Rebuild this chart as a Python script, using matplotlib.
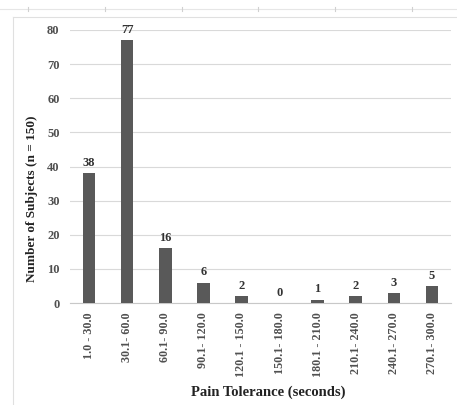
import matplotlib
matplotlib.use("Agg")
import matplotlib.pyplot as plt
from matplotlib.lines import Line2D

categories = ["1.0 - 30.0", "30.1- 60.0", "60.1- 90.0", "90.1- 120.0", "120.1 - 150.0",
              "150.1- 180.0", "180.1 - 210.0", "210.1- 240.0", "240.1- 270.0", "270.1- 300.0"]
counts = [38, 77, 16, 6, 2, 0, 1, 2, 3, 5]
yticks = [0, 10, 20, 30, 40, 50, 60, 70, 80]

plt.rcParams['font.family'] = ['Liberation Serif', 'DejaVu Serif']
W, H = 457, 405
fig = plt.figure(figsize=(W/100, H/100), dpi=100)
ax = fig.add_axes([70/W, 1-303/H, 381/W, 273/H])

x = list(range(len(categories)))
ax.bar(x, counts, width=0.33, color="#595959", zorder=3)
for xi, c in zip(x, counts):
    ax.text(xi, c + 1.2, str(c), ha="center", va="bottom", fontsize=9,
            fontweight="bold", color="#333333", clip_on=False)

ax.set_xlim(-0.5, len(categories) - 0.5)
ax.set_ylim(0, 80)
ax.set_yticks(yticks)
ax.set_yticklabels([str(t) for t in yticks], fontsize=9, fontweight="bold", color="#505050")
ax.set_xticks(x)
ax.set_xticklabels(categories, rotation=90, fontsize=8.7, fontweight="bold", color="#505050", va="top")
ax.tick_params(axis="x", length=0, pad=6.5)
ax.tick_params(axis="y", length=0, pad=7.5)
ax.grid(axis="y", color="#d9d9d9", linewidth=0.8, zorder=0)
for s in ["top", "right", "left"]:
    ax.spines[s].set_visible(False)
ax.spines["bottom"].set_color("#c8c8c8")
ax.spines["bottom"].set_linewidth(0.8)

fig.text(268/W, 1-392/H, "Pain Tolerance (seconds)", ha="center", va="center",
         fontsize=10.5, fontweight="bold", color="#222222")
fig.text(32/W, 1-199/H, "Number of Subjects (n = 150)", ha="center", va="center",
         rotation=90, fontsize=9.5, fontweight="bold", color="#222222")

# surrounding frame artifacts
fig.add_artist(Line2D([0, 1], [1-9/H, 1-9/H], color="#e6e6e6", linewidth=0.8))
for tx in [28, 105, 182, 258, 335, 412]:
    fig.add_artist(Line2D([tx/W, tx/W], [1-7/H, 1-11/H], color="#d0d0d0", linewidth=0.8))
fig.add_artist(Line2D([13/W, 1], [1-17/H, 1-17/H], color="#e0e0e0", linewidth=0.8))
fig.add_artist(Line2D([13/W, 13/W], [0, 1-17/H], color="#e0e0e0", linewidth=0.8))

fig.savefig("out.png", dpi=100)
